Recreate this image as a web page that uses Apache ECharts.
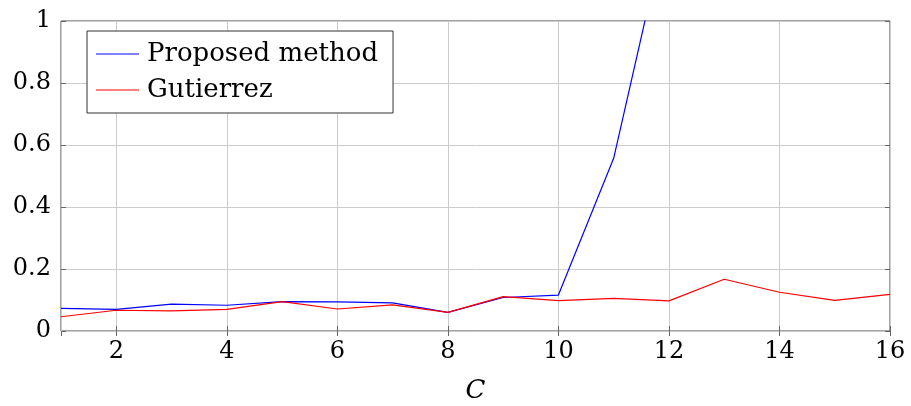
<!DOCTYPE html>
<html>
<head>
<meta charset="utf-8">
<script src="https://cdn.jsdelivr.net/npm/echarts@6/dist/echarts.min.js"></script>
<style>
  html, body { margin: 0; padding: 0; background: #fff; }
  #chart { width: 911px; height: 406px; }
</style>
</head>
<body>
<div id="chart"></div>
<script>
const cValues = [1, 2, 3, 4, 5, 6, 7, 8, 9, 10, 11, 12, 13, 14, 15, 16];
// proposed method leaves the plot after C = 11
const proposed = [0.073, 0.070, 0.087, 0.083, 0.095, 0.094, 0.091, 0.060, 0.108, 0.116, 0.557, 1.34, null, null, null, null];
const gutierrez = [0.046, 0.067, 0.065, 0.070, 0.095, 0.071, 0.084, 0.060, 0.111, 0.098, 0.105, 0.097, 0.167, 0.125, 0.099, 0.118];
const seriesNames = ['Proposed method', 'Gutierrez'];

const font = 'DejaVu Serif';
const chart = echarts.init(document.getElementById('chart'));

function pairs(ys) {
  return cValues.map((c, i) => [c, ys[i]]);
}

const tickStyle = { inside: true, length: 5, lineStyle: { color: '#666' } };
const gridLine = { show: true, lineStyle: { color: '#cccccc', width: 1 } };

chart.setOption({
  animation: false,
  grid: {
    left: 61, right: 21, top: 21, bottom: 75,
    outerBoundsMode: 'none', containLabel: false,
    show: true, borderColor: '#444', borderWidth: 1
  },
  legend: {
    left: 87, top: 31,
    orient: 'vertical',
    data: seriesNames,
    icon: 'rect',
    backgroundColor: '#fff',
    borderColor: '#333', borderWidth: 1,
    padding: [8, 15, 8, 9],
    itemWidth: 43, itemHeight: 1.2, itemGap: 6,
    textStyle: { fontFamily: font, fontSize: 26, color: '#000', lineHeight: 30, padding: [0, 0, 0, 3] }
  },
  xAxis: [{
    type: 'value', min: 1, max: 16, splitNumber: 8,
    name: 'C', nameLocation: 'middle', nameGap: 47,
    nameTextStyle: { fontFamily: font, fontSize: 26, fontStyle: 'italic', color: '#000' },
    axisLine: { show: false },
    axisTick: tickStyle,
    axisLabel: { showMinLabel: false, fontFamily: font, fontSize: 24, color: '#000', margin: 9 },
    splitLine: gridLine
  }, {
    type: 'value', min: 1, max: 16, splitNumber: 8, position: 'top',
    axisLine: { show: false }, axisTick: tickStyle,
    axisLabel: { show: false }, splitLine: { show: false }
  }],
  yAxis: [{
    type: 'value', min: 0, max: 1, interval: 0.2,
    axisLine: { show: false },
    axisTick: tickStyle,
    axisLabel: { fontFamily: font, fontSize: 24, color: '#000', margin: 10 },
    splitLine: gridLine
  }, {
    type: 'value', min: 0, max: 1, interval: 0.2, position: 'right',
    axisLine: { show: false }, axisTick: tickStyle,
    axisLabel: { show: false }, splitLine: { show: false }
  }],
  series: [{
    name: seriesNames[0], type: 'line', symbol: 'none', clip: true,
    data: pairs(proposed), connectNulls: false,
    lineStyle: { color: '#0000ff', width: 1.2 }, itemStyle: { color: '#0000ff' }
  }, {
    name: seriesNames[1], type: 'line', symbol: 'none', clip: true,
    data: pairs(gutierrez),
    lineStyle: { color: '#ff0000', width: 1.2 }, itemStyle: { color: '#ff0000' }
  }]
});
</script>
</body>
</html>
